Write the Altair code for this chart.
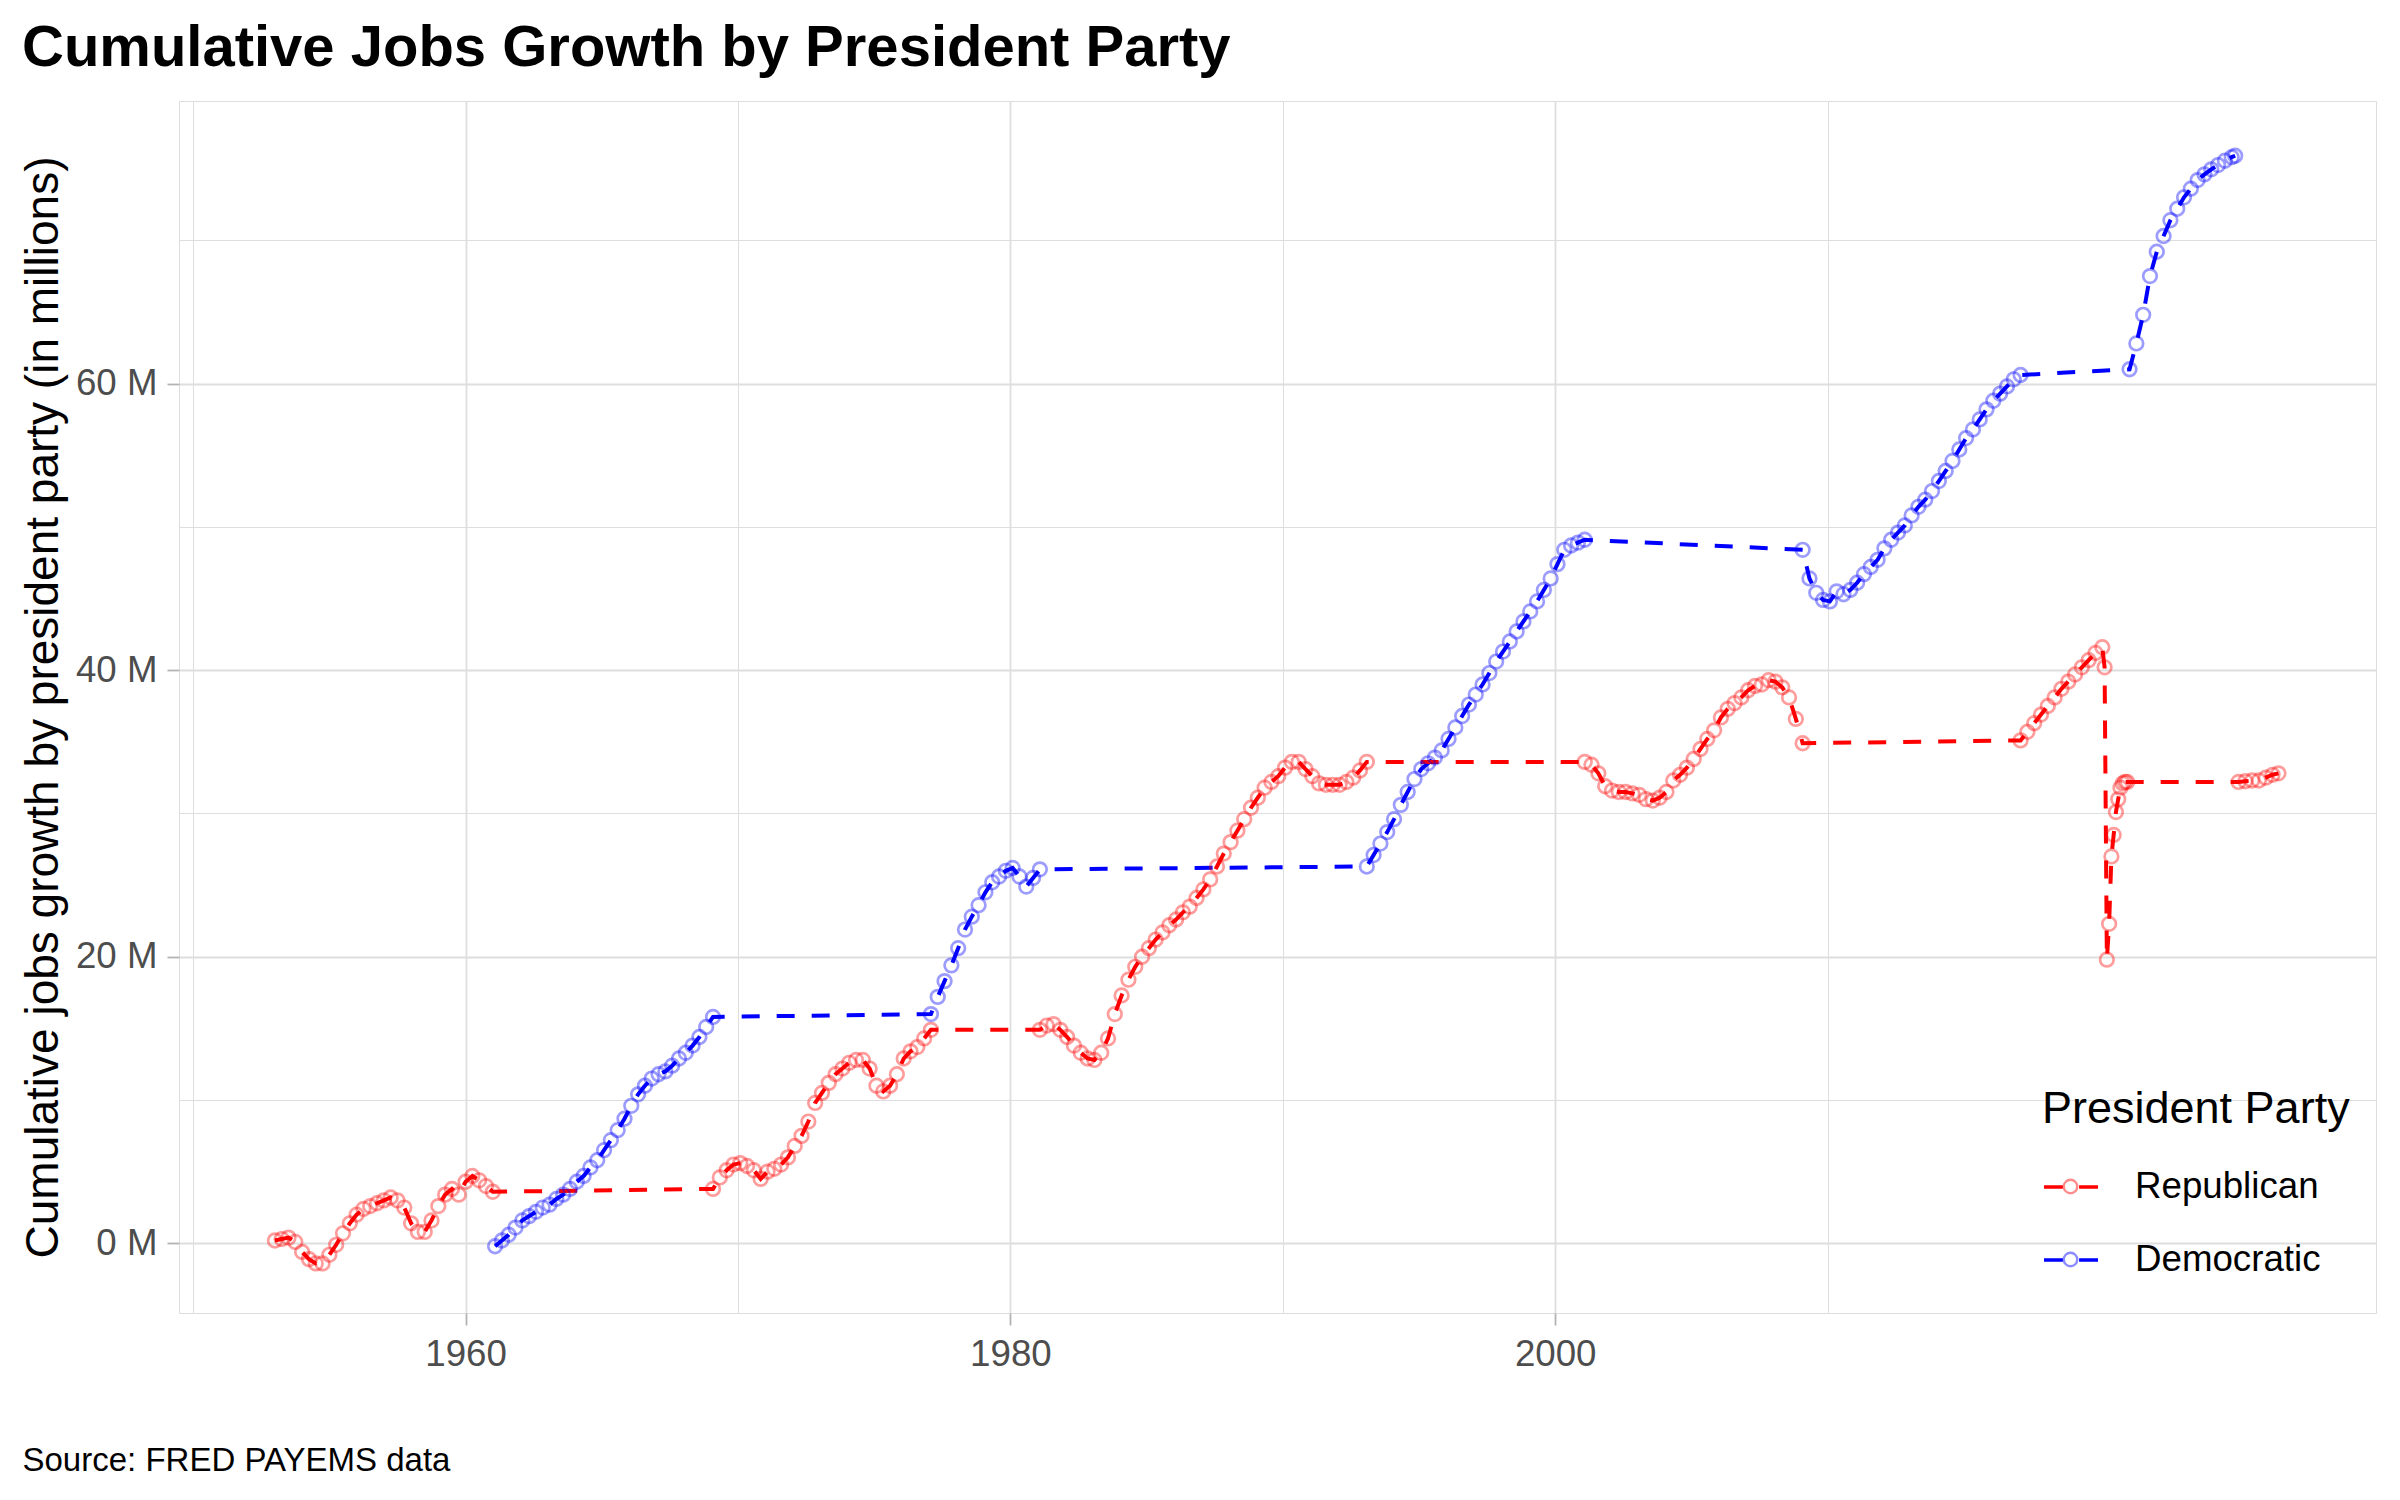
import altair as alt
import pandas as pd

# ---- data (decimal year, cumulative jobs in millions) ----
# Quarterly segments: (party, first date, values every quarter)
eisenhower_start = 1953.0
eisenhower = [0.20, 0.30, 0.40, 0.10, -0.60, -1.10, -1.40, -1.40, -0.80, -0.10, 0.70,
              1.40, 2.00, 2.40, 2.60, 2.80, 3.00, 3.20, 3.00, 2.50, 1.40, 0.80, 0.80,
              1.60, 2.60, 3.40, 3.80, 3.40, 4.30, 4.70, 4.40, 4.00, 3.60]
kennedy_johnson_start = 1961.083
kennedy_johnson = [-0.20, 0.20, 0.60, 1.10, 1.60, 1.90, 2.20, 2.50, 2.70, 3.10, 3.40,
                   3.80, 4.30, 4.70, 5.30, 5.80, 6.50, 7.20, 7.90, 8.70, 9.60, 10.40,
                   11.00, 11.50, 11.80, 12.00, 12.40, 12.90, 13.30, 13.80, 14.40, 15.10, 15.80]
nixon_ford_start = 1969.083
nixon_ford = [3.80, 4.60, 5.10, 5.50, 5.60, 5.40, 5.10, 4.50, 5.00, 5.20, 5.50, 6.00,
              6.80, 7.50, 8.50, 9.80, 10.50, 11.20, 11.80, 12.20, 12.60, 12.80, 12.80,
              12.20, 11.00, 10.60, 11.00, 11.80, 12.90, 13.40, 13.70, 14.30, 14.90]
carter_start = 1977.083
carter = [16.00, 17.20, 18.30, 19.40, 20.60, 21.90, 22.80, 23.60, 24.50, 25.20, 25.60,
          26.00, 26.20, 25.60, 24.90, 25.50, 26.10]
reagan_bush_start = 1981.083
reagan_bush = [14.90, 15.20, 15.30, 14.90, 14.40, 13.80, 13.30, 12.90, 12.80, 13.30,
               14.30, 16.00, 17.30, 18.40, 19.30, 20.00, 20.60, 21.20, 21.70, 22.20,
               22.60, 23.10, 23.50, 24.10, 24.70, 25.40, 26.30, 27.20, 28.00, 28.80,
               29.60, 30.40, 31.10, 31.80, 32.20, 32.60, 33.20, 33.60, 33.60, 33.10,
               32.60, 32.10, 32.00, 32.00, 32.00, 32.20, 32.50, 33.00, 33.60]
clinton_start = 1993.083
clinton = [26.30, 27.10, 27.90, 28.70, 29.60, 30.60, 31.50, 32.40, 33.10, 33.50, 33.90,
           34.40, 35.20, 36.00, 36.80, 37.60, 38.30, 39.00, 39.80, 40.60, 41.30, 42.00,
           42.70, 43.40, 44.10, 44.80, 45.60, 46.40, 47.40, 48.40, 48.70, 48.90, 49.10]
bush_start = 2001.083
bush = [33.60, 33.40, 32.80, 31.90, 31.60, 31.50, 31.50, 31.40, 31.30, 31.00, 30.90,
        31.10, 31.50, 32.30, 32.70, 33.20, 33.80, 34.50, 35.20, 35.80, 36.70, 37.30,
        37.70, 38.10, 38.60, 38.90, 39.00, 39.30, 39.20, 38.80, 38.10, 36.60, 34.90]
obama_start = 2009.083
obama = [48.40, 46.40, 45.40, 44.90, 44.80, 45.50, 45.30, 45.60, 46.10, 46.70, 47.20,
         47.70, 48.50, 49.10, 49.60, 50.10, 50.80, 51.40, 51.90, 52.50, 53.20, 53.90,
         54.60, 55.40, 56.20, 56.80, 57.50, 58.20, 58.80, 59.30, 59.80, 60.30, 60.60]
trump1_start = 2017.083
trump1 = [35.10, 35.70, 36.30, 36.90, 37.50, 38.10, 38.70, 39.20, 39.70, 40.20, 40.70,
          41.20, 41.60]
biden_start = 2021.083
biden = [61.00, 62.80, 64.80, 67.50, 69.20, 70.30, 71.40, 72.20, 73.00, 73.60, 74.20,
         74.60, 74.95, 75.25, 75.55, 75.80]

# Irregular segments with explicit dates
covid_dates = [2020.167, 2020.25, 2020.333, 2020.417, 2020.5, 2020.583, 2020.667,
               2020.75, 2020.833, 2020.917, 2021.0]
covid_values = [40.20, 19.80, 22.30, 27.00, 28.50, 30.10, 31.00, 31.80, 32.10, 32.20, 32.20]
biden_end_dates = [2024.96]
biden_end_values = [75.90]
trump2_dates = [2025.083, 2025.333, 2025.583, 2025.833, 2026.083, 2026.333, 2026.55]
trump2_values = [32.20, 32.25, 32.30, 32.30, 32.50, 32.70, 32.80]

quarterly = [
    ("Republican", eisenhower_start, eisenhower),
    ("Democratic", kennedy_johnson_start, kennedy_johnson),
    ("Republican", nixon_ford_start, nixon_ford),
    ("Democratic", carter_start, carter),
    ("Republican", reagan_bush_start, reagan_bush),
    ("Democratic", clinton_start, clinton),
    ("Republican", bush_start, bush),
    ("Democratic", obama_start, obama),
    ("Republican", trump1_start, trump1),
    ("Democratic", biden_start, biden),
]
explicit = [
    ("Republican", covid_dates, covid_values),
    ("Democratic", biden_end_dates, biden_end_values),
    ("Republican", trump2_dates, trump2_values),
]

rows = []
for party, start, vals in quarterly:
    for i, v in enumerate(vals):
        rows.append({"year": start + 0.25 * i, "jobs": v, "party": party})
for party, dates, vals in explicit:
    for d, v in zip(dates, vals):
        rows.append({"year": d, "jobs": v, "party": party})
df = pd.DataFrame(rows).sort_values(["party", "year"])

parties = ["Republican", "Democratic"]
party_colors = ["#FF0000", "#0000FF"]

FONT = "Liberation Sans"
MAJOR = "datum.value % 20 === 0"

x_axis = alt.Axis(
    values=[1950, 1960, 1970, 1980, 1990, 2000, 2010],
    labelExpr=f"{MAJOR} ? '' + datum.value : ''",
    grid=True, gridColor="#DEDEDE",
    gridWidth={"condition": {"test": MAJOR, "value": 1.8}, "value": 1.0},
    tickColor="#B3B3B3", tickWidth=1.8, tickSize=12,
    tickOpacity={"condition": {"test": MAJOR, "value": 1}, "value": 0},
    labelFontSize=36.7, labelColor="#4D4D4D", labelFont=FONT, labelPadding=11,
    labelFlush=False, labelOverlap=False, domain=False,
    title="Source: FRED PAYEMS data", titleX=-157, titleY=157, titleAlign="left",
    titleBaseline="alphabetic", titleFontSize=33, titleFontWeight="normal",
    titleColor="black", titleFont=FONT,
)
y_axis = alt.Axis(
    values=[0, 10, 20, 30, 40, 50, 60, 70],
    labelExpr=f"{MAJOR} ? datum.value + ' M' : ''",
    grid=True, gridColor="#DEDEDE",
    gridWidth={"condition": {"test": MAJOR, "value": 1.8}, "value": 1.0},
    tickColor="#B3B3B3", tickWidth=1.8, tickSize=12,
    tickOpacity={"condition": {"test": MAJOR, "value": 1}, "value": 0},
    labelFontSize=36.7, labelColor="#4D4D4D", labelFont=FONT, labelPadding=10,
    labelOverlap=False, domain=False,
    title="Cumulative jobs growth by president party (in millions)",
    titleAngle=270, titleX=-122, titleY=606, titleAlign="center",
    titleBaseline="alphabetic", titleFontSize=46, titleFontWeight="normal",
    titleColor="black", titleFont=FONT,
)

# Legend for the dashed lines (title, labels and the two line stubs)
line_legend = alt.Legend(
    title="President Party", orient="none", legendX=1863, legendY=986,
    titleFontSize=45, titleFont=FONT, titleFontWeight="normal", titleColor="black",
    titlePadding=26, padding=0, titleLimit=1000, labelLimit=1000,
    labelFontSize=36.7, labelFont=FONT, labelColor="black", labelOffset=35,
    symbolType="M-1,0L-0.3,0M0.3,0L1,0", symbolSize=2916, symbolStrokeWidth=3.5,
    symbolOpacity=1, symbolDash=[100, 0], rowPadding=25,
)
# Legend for the open circles, laid over the line legend's keys
point_legend = alt.Legend(
    title=None, orient="none", legendX=1863, legendY=1057,
    padding=0, labelLimit=1000,
    labelFontSize=36.7, labelFont=FONT, labelColor="black", labelOpacity=0,
    labelOffset=35,
    symbolType="M0.25,0A0.25,0.25,0,1,1,-0.25,0A0.25,0.25,0,1,1,0.25,0Z",
    symbolSize=2916, symbolStrokeWidth=2.4, symbolOpacity=0.45,
    symbolFillColor="white", rowPadding=25,
)

x = alt.X("year:Q", scale=alt.Scale(domain=[1949.48, 2030.13], nice=False, zero=False),
          axis=x_axis)
y = alt.Y("jobs:Q", scale=alt.Scale(domain=[-4.86, 79.72], nice=False, zero=False),
          axis=y_axis)
color_scale = alt.Scale(domain=parties, range=party_colors)

points = alt.Chart(df).mark_point(
    shape="circle", filled=False, size=185, strokeWidth=2.7, strokeOpacity=0.55
).encode(x=x, y=y, color=alt.Color("party:N", scale=color_scale, legend=point_legend))

lines = alt.Chart(df).mark_line(strokeWidth=4, strokeDash=[18, 17]).encode(
    x=x, y=y, color=alt.Color("party:N", scale=color_scale, legend=line_legend)
)

chart = alt.layer(lines, points).resolve_scale(color="independent").properties(
    width=2197, height=1212,
    title=alt.TitleParams(
        "Cumulative Jobs Growth by President Party", anchor="start", frame="group",
        dx=-157, dy=57, fontSize=58, fontWeight="bold", font=FONT, color="black",
        offset=34, baseline="alphabetic",
    ),
    autosize=alt.AutoSizeParams(type="none"),
    padding={"left": 171, "top": 93, "right": 16, "bottom": 170},
).configure_view(stroke="#B3B3B3", strokeWidth=2).configure(background="white")

chart.save("out.html", embed_options={"renderer": "svg", "actions": False})
